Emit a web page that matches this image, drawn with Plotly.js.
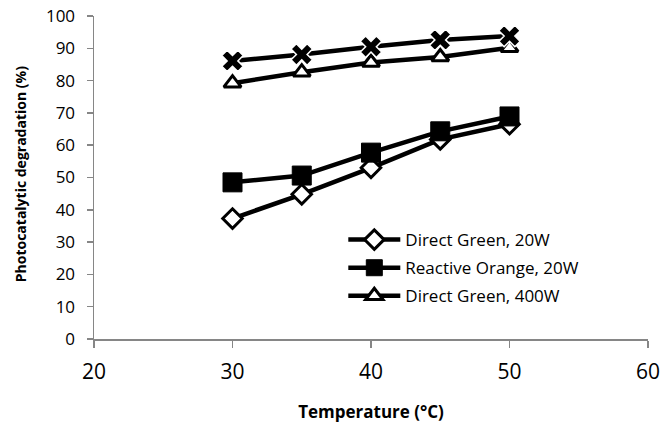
<!DOCTYPE html>
<html><head><meta charset="utf-8">
<script src="https://cdn.plot.ly/plotly-3.0.1.min.js"></script>
<style>body{margin:0;background:#fff}#c{width:661px;height:423px}</style>
</head><body><div id="c"></div>
<script>
const temperature = [30, 35, 40, 45, 50];
const directGreen20W = [37.3, 44.8, 53.0, 61.8, 66.5];
const reactiveOrange20W = [48.5, 50.6, 57.7, 64.3, 68.9];
const directGreen400W = [79.2, 82.6, 85.6, 87.3, 90.2];
const seriesX = [86.1, 88.1, 90.5, 92.6, 93.8];
const names = ["Direct Green, 20W", "Reactive Orange, 20W", "Direct Green, 400W"];
const xTitle = 'Temperature (°C)';
const yTitle = 'Photocatalytic degradation (%)';

const lineW = 4.5;
const traces = [
  {x: temperature, y: directGreen20W, mode: 'lines+markers', name: names[0], legendgroup: 'a',
   line: {color: '#000', width: lineW},
   marker: {symbol: 'diamond', size: 15, color: '#fff', line: {color: '#000', width: 3}}},
  {x: temperature, y: reactiveOrange20W, mode: 'lines+markers', name: names[1], legendgroup: 'b',
   line: {color: '#000', width: lineW},
   marker: {symbol: 'square', size: 19, color: '#000', line: {color: '#000', width: 1}}},
  {x: temperature, y: directGreen400W, mode: 'lines+markers', name: names[2], legendgroup: 'c',
   line: {color: '#000', width: lineW},
   marker: {symbol: 'triangle-up', size: 15, color: '#fff', line: {color: '#000', width: 3}}},
  {x: temperature, y: seriesX, mode: 'lines+markers', showlegend: false,
   line: {color: '#000', width: lineW},
   marker: {symbol: 'x', size: 19, color: '#000', line: {color: '#fff', width: 1.5}}}
];

const layout = {
  width: 661, height: 423,
  margin: {l: 94, r: 13, t: 16, b: 84},
  paper_bgcolor: '#fff', plot_bgcolor: '#fff',
  font: {family: 'Open Sans, sans-serif', color: '#000'},
  showlegend: true,
  legend: {x: 0.45, y: 0.362, xanchor: 'left', yanchor: 'top', traceorder: 'grouped',
           font: {size: 17, color: '#000'}, bgcolor: 'rgba(0,0,0,0)', itemwidth: 52, tracegroupgap: 3},
  xaxis: {range: [20, 60], tickvals: [20, 30, 40, 50, 60], showgrid: false, zeroline: false,
          showline: true, linecolor: '#868686', linewidth: 1.5, ticks: 'outside', ticklen: 7,
          tickcolor: '#868686', tickwidth: 1.5, tickfont: {size: 21, color: '#000'}, ticklabelstandoff: 6,
          title: {text: '<b>' + xTitle + '</b>', font: {size: 17, color: '#000'}, standoff: 30}},
  yaxis: {range: [0, 100], dtick: 10, showgrid: false, zeroline: false,
          showline: true, linecolor: '#868686', linewidth: 1.5, ticks: 'outside', ticklen: 6,
          tickcolor: '#868686', tickwidth: 1.5, tickfont: {size: 17, color: '#000'}, ticklabelstandoff: 8,
          title: {text: ''}},
  annotations: [
    {text: '<b>' + yTitle + '</b>', xref: 'paper', yref: 'paper', x: -0.1336, y: 0.51,
     xanchor: 'center', yanchor: 'middle', textangle: -90, showarrow: false,
     font: {size: 14, color: '#000'}}
  ]
};
Plotly.newPlot('c', traces, layout, {displayModeBar: false, staticPlot: true});
</script></body></html>
